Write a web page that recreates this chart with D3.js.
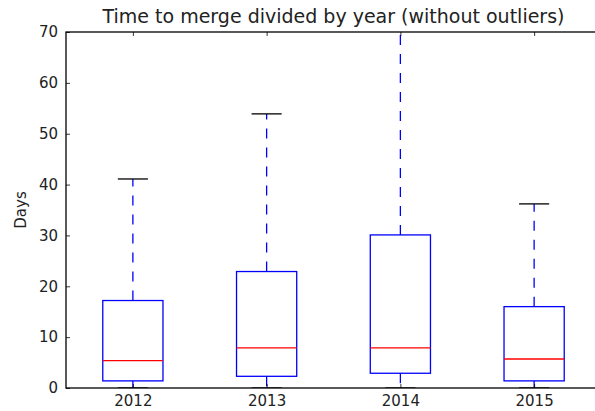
<!DOCTYPE html>
<html>
<head>
<meta charset="utf-8">
<script src="https://cdn.jsdelivr.net/npm/d3@7"></script>
<style>
  html, body { margin: 0; padding: 0; background: #fff; }
  svg { display: block; font-family: "DejaVu Sans", sans-serif; }
</style>
</head>
<body>
<svg id="chart" width="595" height="411"></svg>
<script>
// Time to merge (days) per year, box statistics without outliers
const years = ["2012", "2013", "2014", "2015"];
const whiskerLow = [0, 0, 0, 0];
const q1 = [1.4, 2.3, 2.9, 1.4];
const median = [5.4, 7.9, 7.9, 5.7];
const q3 = [17.2, 22.9, 30.1, 16.0];
const whiskerHigh = [41.1, 53.9, 95, 36.2];
const yTicks = [0, 10, 20, 30, 40, 50, 60, 70];

const boxes = years.map((y, i) => ({
  year: y, pos: i + 1,
  lo: whiskerLow[i], q1: q1[i], med: median[i], q3: q3[i], hi: whiskerHigh[i]
}));

const svg = d3.select("#chart");
const margin = { left: 66, right: -6, top: 32, bottom: 23 };
const W = 595, H = 411;
const x0 = margin.left, x1 = W - margin.right;
const y0 = margin.top, y1 = H - margin.bottom;

const x = d3.scaleLinear().domain([0.5, years.length + 0.5]).range([x0, x1]);
const y = d3.scaleLinear().domain([0, 70]).range([y1, y0]);

const defs = svg.append("defs");
defs.append("clipPath").attr("id", "plot-clip")
  .append("rect").attr("x", x0).attr("y", y0).attr("width", x1 - x0).attr("height", y1 - y0);

const plot = svg.append("g").attr("clip-path", "url(#plot-clip)");

const boxW = 0.45, capW = boxW / 2;

const g = plot.selectAll("g.box").data(boxes).enter().append("g").attr("class", "box");

// whiskers (dashed)
g.append("line")
  .attr("x1", d => x(d.pos)).attr("x2", d => x(d.pos))
  .attr("y1", d => y(d.q3)).attr("y2", d => y(d.hi))
  .attr("stroke", "#0000ff").attr("stroke-width", 1.3).attr("stroke-dasharray", "10,9");
g.append("line")
  .attr("x1", d => x(d.pos)).attr("x2", d => x(d.pos))
  .attr("y1", d => y(d.q1)).attr("y2", d => y(d.lo))
  .attr("stroke", "#0000ff").attr("stroke-width", 1.3).attr("stroke-dasharray", "10,9");

// caps
["lo", "hi"].forEach(k => {
  g.append("line")
    .attr("x1", d => x(d.pos - capW / 2)).attr("x2", d => x(d.pos + capW / 2))
    .attr("y1", d => y(d[k])).attr("y2", d => y(d[k]))
    .attr("stroke", "#000").attr("stroke-width", 1.3);
});

// boxes
g.append("rect")
  .attr("x", d => x(d.pos - boxW / 2))
  .attr("width", d => x(d.pos + boxW / 2) - x(d.pos - boxW / 2))
  .attr("y", d => y(d.q3))
  .attr("height", d => y(d.q1) - y(d.q3))
  .attr("fill", "none").attr("stroke", "#0000ff").attr("stroke-width", 1.3);

// medians
g.append("line")
  .attr("x1", d => x(d.pos - boxW / 2)).attr("x2", d => x(d.pos + boxW / 2))
  .attr("y1", d => y(d.med)).attr("y2", d => y(d.med))
  .attr("stroke", "#ff0000").attr("stroke-width", 1.3);

// axes: ticks pointing inward on all four sides
const tickLen = 4;
const axisLeft = d3.axisLeft(y).tickValues(yTicks).tickSize(-tickLen).tickPadding(8);
const axisRight = d3.axisRight(y).tickValues(yTicks).tickSize(-tickLen).tickFormat("");
const axisBottom = d3.axisBottom(x).tickValues(boxes.map(d => d.pos))
  .tickFormat((d, i) => years[i]).tickSize(-tickLen).tickPadding(7);
const axisTop = d3.axisTop(x).tickValues(boxes.map(d => d.pos)).tickSize(-tickLen).tickFormat("");

function style(sel) {
  sel.select(".domain").remove();
  sel.selectAll(".tick line").attr("stroke", "#000").attr("stroke-width", 0.8);
  sel.selectAll(".tick text").attr("fill", "#222").style("font-size", "15px")
    .style("font-family", "'DejaVu Sans', sans-serif");
}
svg.append("g").attr("transform", `translate(${x0},0)`).call(axisLeft).call(style);
svg.append("g").attr("transform", `translate(${x1},0)`).call(axisRight).call(style);
svg.append("g").attr("transform", `translate(0,${y1})`).call(axisBottom).call(style);
svg.append("g").attr("transform", `translate(0,${y0})`).call(axisTop).call(style);

// frame
svg.append("rect").attr("x", x0).attr("y", y0).attr("width", x1 - x0).attr("height", y1 - y0)
  .attr("fill", "none").attr("stroke", "#000").attr("stroke-width", 1.3);

// title and y label
svg.append("text").attr("x", (x0 + x1) / 2).attr("y", 23)
  .attr("text-anchor", "middle").attr("fill", "#222").style("font-size", "19px")
  .text("Time to merge divided by year (without outliers)");
svg.append("text")
  .attr("transform", `translate(26,${(y0 + y1) / 2}) rotate(-90)`)
  .attr("text-anchor", "middle").attr("fill", "#222").style("font-size", "15px")
  .text("Days");
</script>
</body>
</html>
